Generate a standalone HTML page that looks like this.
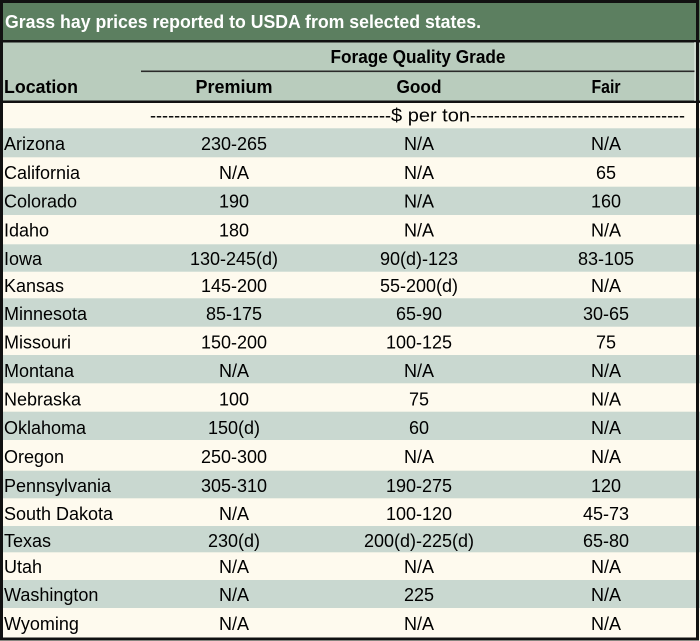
<!DOCTYPE html>
<html>
<head>
<meta charset="utf-8">
<style>
html,body{margin:0;padding:0;background:#fff;}
svg{display:block;}
text{font-family:"Liberation Sans",Arial,sans-serif;fill:#000;}
.b{font-weight:bold;}
.c{text-anchor:middle;}
</style>
</head>
<body>
<svg width="700" height="641" viewBox="0 0 700 641" xmlns="http://www.w3.org/2000/svg">
  <rect x="0" y="0" width="700" height="641" fill="#fefaee"/>
  <rect x="0" y="0" width="700" height="42" fill="#5c7f60"/>
  <rect x="0" y="42" width="700" height="59" fill="#b9ccbd"/>
  <g fill="#c9d8d0">
    <rect x="0" y="128.3" width="700" height="29"/>
    <rect x="0" y="186.7" width="700" height="28.3"/>
    <rect x="0" y="244.3" width="700" height="27.4"/>
    <rect x="0" y="298.3" width="700" height="28.4"/>
    <rect x="0" y="355" width="700" height="28.3"/>
    <rect x="0" y="411.7" width="700" height="28.3"/>
    <rect x="0" y="470.7" width="700" height="27.6"/>
    <rect x="0" y="526" width="700" height="26.3"/>
    <rect x="0" y="580" width="700" height="28"/>
  </g>
  <rect x="0" y="40" width="700" height="2.5" fill="#111"/>
  <rect x="0" y="100.5" width="700" height="2.5" fill="#111"/>
  <rect x="141" y="70.5" width="554" height="1.6" fill="#2a2a2a"/>
  <rect x="694.5" y="42" width="1" height="59" fill="#e6eee8"/>
  <rect x="1.5" y="1.5" width="696" height="637.5" fill="none" stroke="#111" stroke-width="3"/>

  <text x="5" y="28" class="b" font-size="18" style="fill:#fff" textLength="476" lengthAdjust="spacingAndGlyphs">Grass hay prices reported to USDA from selected states.</text>

  <text x="418" y="63" class="b c" font-size="18" textLength="175" lengthAdjust="spacingAndGlyphs">Forage Quality Grade</text>
  <text x="4" y="93" class="b" font-size="18" textLength="74" lengthAdjust="spacingAndGlyphs">Location</text>
  <text x="234" y="93" class="b c" font-size="18" textLength="77" lengthAdjust="spacingAndGlyphs">Premium</text>
  <text x="419" y="93" class="b c" font-size="18" textLength="45" lengthAdjust="spacingAndGlyphs">Good</text>
  <text x="606" y="93" class="b c" font-size="18" textLength="29" lengthAdjust="spacingAndGlyphs">Fair</text>

  <text x="150" y="121.5" font-size="18" textLength="241" lengthAdjust="spacingAndGlyphs">----------------------------------------</text>
  <text x="391" y="121.5" font-size="18" textLength="79" lengthAdjust="spacingAndGlyphs">$ per ton</text>
  <text x="470" y="121.5" font-size="18" textLength="215" lengthAdjust="spacingAndGlyphs">------------------------------------</text>

  <g font-size="18">
    <text x="4" y="150">Arizona</text><text x="234" y="150" class="c">230-265</text><text x="419" y="150" class="c">N/A</text><text x="606" y="150" class="c">N/A</text>
    <text x="4" y="179">California</text><text x="234" y="179" class="c">N/A</text><text x="419" y="179" class="c">N/A</text><text x="606" y="179" class="c">65</text>
    <text x="4" y="207.5">Colorado</text><text x="234" y="207.5" class="c">190</text><text x="419" y="207.5" class="c">N/A</text><text x="606" y="207.5" class="c">160</text>
    <text x="4" y="236.5">Idaho</text><text x="234" y="236.5" class="c">180</text><text x="419" y="236.5" class="c">N/A</text><text x="606" y="236.5" class="c">N/A</text>
    <text x="4" y="265">Iowa</text><text x="234" y="265" class="c">130-245(d)</text><text x="419" y="265" class="c">90(d)-123</text><text x="606" y="265" class="c">83-105</text>
    <text x="4" y="292">Kansas</text><text x="234" y="292" class="c">145-200</text><text x="419" y="292" class="c">55-200(d)</text><text x="606" y="292" class="c">N/A</text>
    <text x="4" y="320">Minnesota</text><text x="234" y="320" class="c">85-175</text><text x="419" y="320" class="c">65-90</text><text x="606" y="320" class="c">30-65</text>
    <text x="4" y="348.5">Missouri</text><text x="234" y="348.5" class="c">150-200</text><text x="419" y="348.5" class="c">100-125</text><text x="606" y="348.5" class="c">75</text>
    <text x="4" y="377">Montana</text><text x="234" y="377" class="c">N/A</text><text x="419" y="377" class="c">N/A</text><text x="606" y="377" class="c">N/A</text>
    <text x="4" y="405.5">Nebraska</text><text x="234" y="405.5" class="c">100</text><text x="419" y="405.5" class="c">75</text><text x="606" y="405.5" class="c">N/A</text>
    <text x="4" y="434">Oklahoma</text><text x="234" y="434" class="c">150(d)</text><text x="419" y="434" class="c">60</text><text x="606" y="434" class="c">N/A</text>
    <text x="4" y="463">Oregon</text><text x="234" y="463" class="c">250-300</text><text x="419" y="463" class="c">N/A</text><text x="606" y="463" class="c">N/A</text>
    <text x="4" y="492">Pennsylvania</text><text x="234" y="492" class="c">305-310</text><text x="419" y="492" class="c">190-275</text><text x="606" y="492" class="c">120</text>
    <text x="4" y="520">South Dakota</text><text x="234" y="520" class="c">N/A</text><text x="419" y="520" class="c">100-120</text><text x="606" y="520" class="c">45-73</text>
    <text x="4" y="547">Texas</text><text x="234" y="547" class="c">230(d)</text><text x="419" y="547" class="c">200(d)-225(d)</text><text x="606" y="547" class="c">65-80</text>
    <text x="4" y="573">Utah</text><text x="234" y="573" class="c">N/A</text><text x="419" y="573" class="c">N/A</text><text x="606" y="573" class="c">N/A</text>
    <text x="4" y="601">Washington</text><text x="234" y="601" class="c">N/A</text><text x="419" y="601" class="c">225</text><text x="606" y="601" class="c">N/A</text>
    <text x="4" y="630">Wyoming</text><text x="234" y="630" class="c">N/A</text><text x="419" y="630" class="c">N/A</text><text x="606" y="630" class="c">N/A</text>
  </g>
</svg>
</body>
</html>
